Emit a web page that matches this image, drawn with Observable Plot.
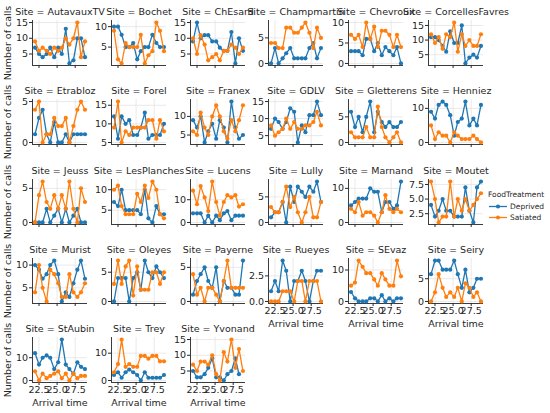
<!DOCTYPE html>
<html><head><meta charset="utf-8">
<script src="https://cdn.jsdelivr.net/npm/d3@7"></script>
<script src="https://cdn.jsdelivr.net/npm/@observablehq/plot@0.6"></script>
<style>
body{margin:0;background:#fff;font-family:"DejaVu Sans",sans-serif;}
#chart{position:relative;width:550px;height:413px;overflow:hidden;background:#fff;}
.panel{position:absolute;}
.panel svg{overflow:visible;}
.leg{position:absolute;font-family:"DejaVu Sans",sans-serif;font-size:7.5px;color:#262626;line-height:9px;white-space:nowrap;}
</style></head>
<body><div id="chart"></div>
<script>
// ---- data ----
const sites = ["AutavauxTV","Bochet","ChEsard","Champmartin","Chevroux","CorcellesFavres",
  "Etrabloz","Forel","Franex","GDLV","Gletterens","Henniez",
  "Jeuss","LesPlanches","Lucens","Lully","Marnand","Moutet",
  "Murist","Oleyes","Payerne","Rueyes","SEvaz","Seiry",
  "StAubin","Trey","Yvonand"];
const arrivalTimes = [21.95, 22.5, 23.0, 23.55, 24.05, 24.6, 25.15, 25.65, 26.2, 26.7, 27.25, 27.8, 28.3, 28.85];
const deprived = [
  [7,5,4,5,7,4,7,5,13,2,3,10,10,4],
  [10,10,8,5,5,6,2,4,5,5,8,6,5,5],
  [9,15,10,11,11,9,9,7,6,6,12,2,10,6],
  [0,3,0,1,2,3,1,1,1,1,3,4,1,3],
  [3,3,3,2,6,6,3,5,2,4,3,2,4,0],
  [11,11,10,8,6,13,9,9,15,2,4,5,4,8],
  [1,3,4,1,0,2.5,0,0,1,0,1,1,1,1],
  [12,6,12,10,11,7,7,9,13,6,7,7,7,10],
  [9,7,10,3,6,8,4,9,7,3,14,7,4,5],
  [7,10,9,7,9,13,12,3,8,6,11,11,15,11],
  [6,3,5,2,5,8,2,6,4,3,4,3,3,4],
  [9,7,11,12,11,8,2,6,7,12,5,7,5,11],
  [0,0,0,2,0,1,2,0,2,0,1,2,0,0],
  [7,6,10,5,5,5,5,4,10,3,2,6,4,4],
  [4,4,4,0,3,0,3,1,4,5,1,3,3,3],
  [1,2,2,4,0,7,4,7,6,5,7,6,8,4],
  [5,6,7,7,7,10,9,9,3,6,6,4,5,12],
  [4,2,3,5,3,3,2,2,2,7,3,1,7,8],
  [10,9,7,8,10,11,8,2,4,3,6,9,11,7],
  [0,4,4,4,0,4,5,2,7,5,4,6,5,4],
  [1,3,4,5,3,2,5,0,3,2,2,1,1,6],
  [1,2,1,4,3,0,2,2,3,2,0,2,3,3],
  [3,1,0,0,0,1,1,0,2,0,1,0,1,1],
  [6,9,9,7,7,7,9,6,3,7,2,3,5,5],
  [12,7,10,11,10,5,8,18,7,5,3,8,6,5],
  [2,3,1,3,4,3,2,0,3,1,1,1,1,2],
  [5,3,3,4,6,9,3,3,2,4,5,9,4]
];
const satiated = [
  [9,6,7,6,5,7,6,7,10,8,10,15,4,9],
  [9,2,1,6,5,5,5,8,1,3,4,11,9,4],
  [10,5,11,8,3,4,5,3,6,6,8,7,5,7],
  [4,4,3,3,7,7,6,6,7,8,6,3,7,5],
  [7,6,7,4,10,6,9,4,8,8,7,4,7,4],
  [12,9,11,7,12,11,16,6,12,8,10,8,8,12],
  [4,5,0,1,1,3,2,2,3,0,2,4,5,4],
  [9,16,5,8,7,9,9,9,9,11,11,6,11,8],
  [6,5,11,7,5,10,13,10,6,4,9,6,9,13],
  [8,5,6,7,10,7,9,7,7,8,8,9,12,8],
  [2,1,1,1,3,1,1,7,3,1,0,1,2,0],
  [5,1,3,2,2,0,3,2,1,1,1,2,1,0],
  [0,4,6,3,2,4,2,4,2,6,2,0,5,3],
  [10,11,6,4,4,4,9,7,11,8,12,10,4,3],
  [14,8,16,11,5,18,9,3,9,12,11,12,7,8],
  [3,2,2,4,7,3,5,2,0,2,5,1,1,4],
  [4,3,6,2,3,3,2,0,3,8,4,3,4,3],
  [8,5,1,2,2,8,2,5,3,5,3,4,5,6],
  [4,10,5,2,9,8,6,3,3,8,4,3,4,6],
  [3,7,3,6,7,1,6,2,2,2,5,5,3,5],
  [4,1,2,0,2,2,1,0,3,6,2,2,2,2],
  [0,0,0,1,1,1,0,2,2,0,2,2,2,0],
  [5,6,13,11,9,9,7,5,9,7,5,5,13,8],
  [0,2,6,3,1,2,1,3,0,4,3,1,2,0],
  [4,0,3,1,2,3,4,1,3,0,3,1,2,2],
  [3,6,15,5,6,5,5,9,9,8,9,9,7,7],
  [7,5,8,8,7,10,4,2,11,8,15,6,12,5]
];
const yTicks = [
  [5,10,15],[5,10],[5,10,15],[0,5],[0,5,10],[5,10,15],
  [0,5],[5,10,15],[5,10],[5,10,15],[0,5],[0,10],
  [0,5],[5,10],[0,10],[0,5],[0,10],[2.5,5.0,7.5],
  [5,10],[0,5],[0,5],[0.0,2.5],[0,10],[0,5],
  [0,10],[0,10],[5,10,15]
];
const xTicks = [22.5, 25.0, 27.5];
const xDomain = [21.6, 29.2];
const treatments = ["Deprived", "Satiated"];
const colors = ["#1f77b4", "#ff7f0e"];

// ---- layout ----
const colLeft = [32, 111, 190, 268, 348, 428];
const rowTop = [20, 99, 179, 258, 337];
const W = 55, H = 45;
const ML = 34, MR = 4, MT = 16, MB = 28;
const ncol = 6;
const chart = document.getElementById("chart");

sites.forEach((site, i) => {
  const col = i % ncol, row = Math.floor(i / ncol);
  const rows = [];
  deprived[i].forEach((v, j) => rows.push({t: arrivalTimes[j], calls: v, treatment: "Deprived"}));
  satiated[i].forEach((v, j) => rows.push({t: arrivalTimes[j], calls: v, treatment: "Satiated"}));
  const ext = d3.extent(rows, d => d.calls);
  const pad = (ext[1] - ext[0]) * 0.05;
  const yDom = [ext[0] - pad, ext[1] + pad];
  const showX = i + ncol >= sites.length;
  const fmtY = yTicks[i].some(v => !Number.isInteger(v)) ? d3.format(".1f") : d3.format("d");
  const marks = [
    Plot.gridX(xTicks, {stroke: "#e3e3e3", strokeOpacity: 1, strokeWidth: 0.8}),
    Plot.gridY(yTicks[i], {stroke: "#e3e3e3", strokeOpacity: 1, strokeWidth: 0.8}),
    Plot.axisY(yTicks[i], {tickSize: 3, tickPadding: 1.5, tickFormat: fmtY, label: null}),
    Plot.axisX(xTicks, {tickSize: 3, tickPadding: 1, tickFormat: showX ? d3.format(".1f") : () => "", label: null}),
    Plot.ruleX([xDomain[0]], {stroke: "#262626", strokeWidth: 0.9}),
    Plot.ruleY([yDom[0]], {stroke: "#262626", strokeWidth: 0.9})
  ];
  treatments.forEach(tr => {
    const sub = rows.filter(d => d.treatment === tr);
    marks.push(Plot.line(sub, {x: "t", y: "calls", stroke: "treatment", strokeWidth: 1.3}));
    marks.push(Plot.dot(sub, {x: "t", y: "calls", fill: "treatment", r: 2.1}));
  });
  marks.push(Plot.text([`Site = ${site}`], {text: d => d, frameAnchor: "top", dy: -9, lineAnchor: "middle", textAnchor: "middle", fontSize: 9.5}));
  if (col === 0) marks.push(Plot.text(["Number of calls"], {text: d => d, frameAnchor: "left", dx: -25, rotate: -90, textAnchor: "middle", lineAnchor: "middle", fontSize: 9.5}));
  if (showX) marks.push(Plot.text(["Arrival time"], {text: d => d, frameAnchor: "bottom", dy: 20, textAnchor: "middle", lineAnchor: "middle", fontSize: 9.5}));

  const svg = Plot.plot({
    width: ML + W + MR, height: MT + H + MB,
    marginLeft: ML, marginRight: MR, marginTop: MT, marginBottom: MB,
    style: {fontFamily: "DejaVu Sans", fontSize: "9.5px", color: "#262626", background: "transparent", overflow: "visible"},
    x: {domain: xDomain},
    y: {domain: yDom},
    color: {domain: treatments, range: colors},
    marks
  });
  const div = document.createElement("div");
  div.className = "panel";
  div.style.left = (colLeft[col] - ML) + "px";
  div.style.top = (rowTop[row] - MT) + "px";
  div.appendChild(svg);
  chart.appendChild(div);
});

// ---- legend ----
const title = document.createElement("div");
title.className = "leg";
title.style.left = "488px"; title.style.top = "189.5px";
title.textContent = "FoodTreatment";
chart.appendChild(title);
treatments.forEach((tr, k) => {
  const item = document.createElement("div");
  item.className = "leg";
  item.style.left = "489px";
  item.style.top = (201.5 + k * 11.6) + "px";
  item.innerHTML = `<svg width="19" height="9" style="vertical-align:top;margin-right:2px"><line x1="0" x2="18" y1="4.5" y2="4.5" stroke="${colors[k]}" stroke-width="1.3"/><circle cx="9" cy="4.5" r="2.1" fill="${colors[k]}"/></svg>${tr}`;
  chart.appendChild(item);
});
</script>
</body></html>
